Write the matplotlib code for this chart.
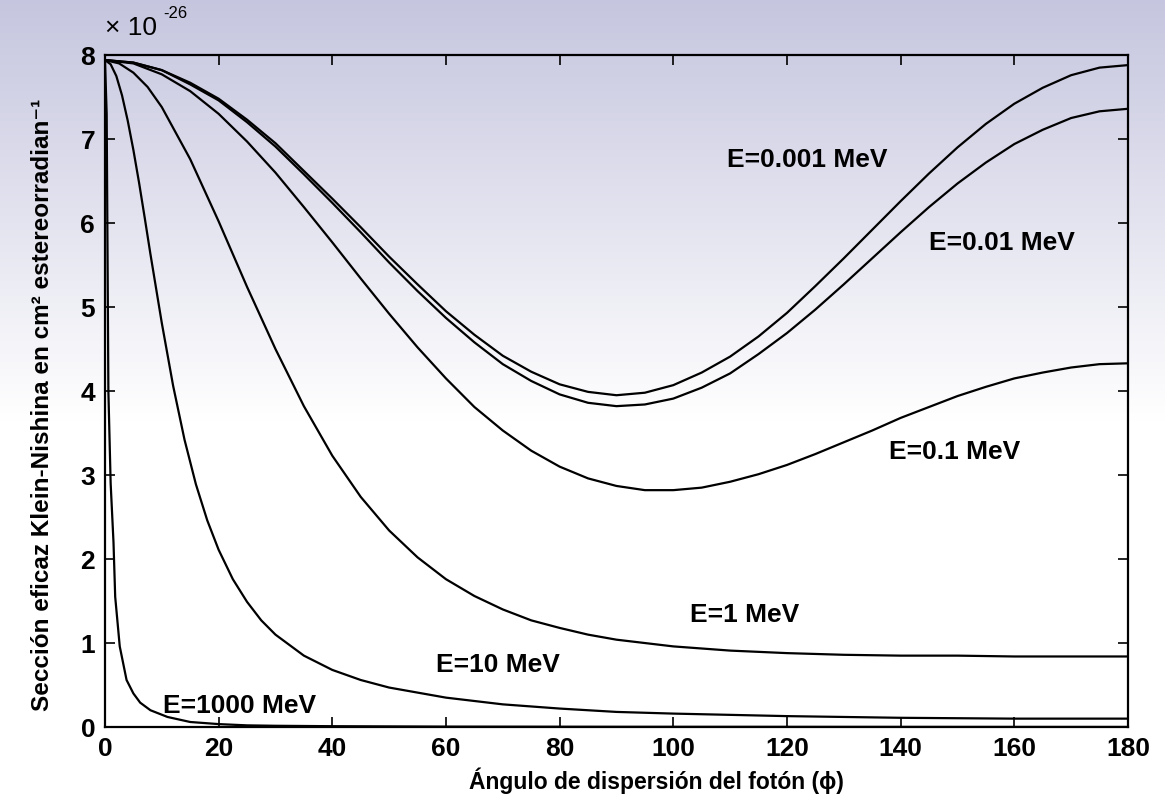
import numpy as np
import matplotlib.pyplot as plt

plt.rcParams['font.family'] = ['Liberation Sans', 'DejaVu Sans']
plt.rcParams['font.weight'] = 'bold'
plt.rcParams['axes.labelweight'] = 'bold'

# ángulos (grados) y sección eficaz (x 1e-26)
ang_5 = list(range(0, 181, 5))
e0001 = [7.94, 7.91, 7.82, 7.67, 7.48, 7.23, 6.95, 6.62, 6.29, 5.95, 5.60, 5.27, 4.95,
         4.67, 4.42, 4.23, 4.08, 3.99, 3.95, 3.98, 4.07, 4.22, 4.41, 4.65, 4.93, 5.25,
         5.58, 5.92, 6.26, 6.59, 6.90, 7.18, 7.42, 7.61, 7.76, 7.85, 7.88]
e001 = [7.94, 7.91, 7.82, 7.65, 7.46, 7.20, 6.91, 6.58, 6.24, 5.89, 5.53, 5.19, 4.87,
        4.58, 4.32, 4.12, 3.96, 3.86, 3.82, 3.84, 3.91, 4.04, 4.21, 4.44, 4.69, 4.97,
        5.27, 5.58, 5.89, 6.19, 6.47, 6.72, 6.94, 7.11, 7.25, 7.33, 7.36]
e01 = [7.94, 7.90, 7.77, 7.57, 7.30, 6.97, 6.60, 6.19, 5.77, 5.34, 4.92, 4.52, 4.15,
       3.81, 3.53, 3.29, 3.10, 2.96, 2.87, 2.82, 2.82, 2.85, 2.92, 3.01, 3.12, 3.25,
       3.39, 3.53, 3.68, 3.81, 3.94, 4.05, 4.15, 4.22, 4.28, 4.32, 4.33]

ang_1 = [0, 2.5, 5, 7.5, 10, 15, 20, 25, 30, 35, 40, 45, 50, 55, 60, 65, 70, 75, 80,
         85, 90, 100, 110, 120, 130, 140, 150, 160, 170, 180]
e1 = [7.94, 7.90, 7.79, 7.62, 7.38, 6.76, 6.02, 5.24, 4.50, 3.82, 3.23, 2.74, 2.34,
      2.02, 1.76, 1.56, 1.40, 1.27, 1.18, 1.10, 1.04, 0.96, 0.91, 0.88, 0.86, 0.85,
      0.85, 0.84, 0.84, 0.84]

ang_10 = [0, 1, 2, 3, 4, 5, 6, 7, 8, 10, 12, 14, 16, 18, 20, 22.5, 25, 27.5, 30, 35,
          40, 45, 50, 60, 70, 80, 90, 100, 120, 140, 160, 180]
e10 = [7.94, 7.89, 7.75, 7.52, 7.22, 6.87, 6.48, 6.06, 5.63, 4.81, 4.06, 3.42, 2.89,
       2.46, 2.11, 1.76, 1.49, 1.27, 1.10, 0.85, 0.68, 0.56, 0.47, 0.35, 0.27, 0.22,
       0.18, 0.16, 0.13, 0.11, 0.10, 0.10]

ang_1000 = [0, 0.3, 0.6, 1.0, 1.5, 1.8, 2.6, 3.8, 5, 6.2, 8, 11, 15, 20, 25, 30, 40,
            60, 90, 180]
e1000 = [7.94, 7.3, 4.0, 2.9, 2.2, 1.55, 0.96, 0.56, 0.40, 0.29, 0.20, 0.12, 0.06,
         0.035, 0.02, 0.015, 0.01, 0.005, 0.003, 0.001]

etiquetas = ['E=0.001 MeV', 'E=0.01 MeV', 'E=0.1 MeV', 'E=1 MeV', 'E=10 MeV', 'E=1000 MeV']
pos_x = [109.5, 145, 138, 103, 58.3, 10.2]
pos_y = [6.75, 5.76, 3.27, 1.33, 0.74, 0.25]

fig = plt.figure(figsize=(11.65, 8.08), dpi=100)

# fondo degradado (lila arriba -> blanco)
bg = fig.add_axes([0, 0, 1, 1], zorder=0)
h = 400
t = np.clip(np.linspace(0, 1, h) / 0.52, 0, 1)
top = np.array([0.775, 0.775, 0.875])
img = top[None, :] * (1 - t[:, None]) + np.ones(3)[None, :] * t[:, None]
bg.imshow(img[:, None, :], aspect='auto', extent=[0, 1, 0, 1])
bg.axis('off')

ax = fig.add_axes([0.0901, 0.1002, 0.8781, 0.8317], zorder=1)
ax.set_facecolor('none')

for a, v in [(ang_5, e0001), (ang_5, e001), (ang_5, e01), (ang_1, e1),
             (ang_10, e10), (ang_1000, e1000)]:
    ax.plot(a, v, color='black', lw=1.6)

for s, x, y in zip(etiquetas, pos_x, pos_y):
    ax.text(x, y, s, fontsize=19, va='center', ha='left')

ax.set_xlim(0, 180)
ax.set_ylim(0, 8)
ax.set_xticks(range(0, 181, 20))
ax.set_yticks(range(0, 9))
ax.tick_params(direction='in', top=True, right=True, length=7, width=1.2,
               labelsize=19, pad=7)
for sp in ax.spines.values():
    sp.set_linewidth(1.6)

ax.set_xlabel('Ángulo de dispersión del fotón (\u03d5)', fontsize=16.5)
ax.xaxis.set_label_coords(0.539, -0.06)
ax.set_ylabel('Sección eficaz Klein-Nishina en cm\u00b2 estereorradian\u207b\u00b9',
              fontsize=17.5)
ax.yaxis.set_label_coords(-0.05, 0.48)

ax.text(0.0, 1.022, '\u00d7 10', transform=ax.transAxes, fontsize=19,
        ha='left', va='bottom', fontweight='normal')
ax.text(0.057, 1.05, '-26', transform=ax.transAxes, fontsize=12,
        ha='left', va='bottom', fontweight='normal')

fig.savefig('out.png', dpi=100)
